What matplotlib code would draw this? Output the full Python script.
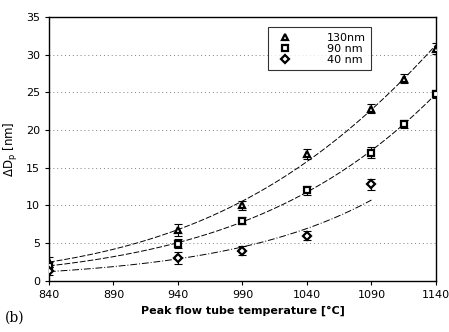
import numpy as np
import matplotlib
matplotlib.use("Agg")
import matplotlib.pyplot as plt

temps = [840, 940, 990, 1040, 1090, 1115, 1140]
d130 = [2.5, 6.8, 10.0, 16.8, 22.8, 26.8, 30.8]
d90 = [2.0, 4.9, 8.0, 12.0, 17.0, 20.8, 24.8]
temps40 = [840, 940, 990, 1040, 1090]
d40 = [1.3, 3.0, 4.0, 6.0, 12.8]
err130 = [0.6, 0.8, 0.6, 0.7, 0.6, 0.6, 0.7]
err90 = [0.5, 0.6, 0.5, 0.6, 0.7, 0.5, 0.5]
err40 = [0.5, 0.8, 0.6, 0.6, 0.7]

fig = plt.figure(figsize=(4.49, 3.32), dpi=100)
ax = fig.add_axes([0.109, 0.154, 0.862, 0.795])

# (x, y, err, marker, label, linestyle, degree of fit in log space)
series = [
    (temps, d130, err130, "^", "130nm", (0, (6, 2)), 2),
    (temps, d90, err90, "s", "90 nm", (0, (6, 2)), 2),
    (temps40, d40, err40, "D", "40 nm", (0, (7, 2, 1, 2)), 1),
]

for t, d, e, m, lab, ls, deg in series:
    t = np.array(t, dtype=float)
    coef = np.polyfit(t, np.log(d), deg)
    tt = np.linspace(t[0], t[-1], 200)
    ax.plot(tt, np.exp(np.polyval(coef, tt)), color="black", lw=0.7, ls=ls)
    ax.errorbar(t, d, yerr=e, fmt="none", ecolor="black", elinewidth=0.8,
                capsize=3, capthick=0.8, zorder=3)
    ax.plot(t, d, m, ms=5 if m != "D" else 4, mfc="white", mec="black",
            mew=1.6, label=lab, zorder=4)

ax.set_xlim(840, 1140)
ax.set_ylim(0, 35)
ax.set_xticks([840, 890, 940, 990, 1040, 1090, 1140])
ax.set_yticks(range(0, 36, 5))
ax.tick_params(labelsize=8, length=3, direction="out")
ax.yaxis.grid(True, ls=(0, (1, 3)), color="gray", lw=0.7)
for s in ax.spines.values():
    s.set_linewidth(1.0)

ax.set_ylabel(r"$\Delta$D$_\mathregular{p}$ [nm]", fontsize=8.5)
ax.set_xlabel("Peak flow tube temperature [°C]", fontsize=8, fontweight="bold")

leg = ax.legend(loc="upper left", bbox_to_anchor=(0.56, 0.97), fontsize=8,
                frameon=True, fancybox=False, edgecolor="black",
                handletextpad=2.8, borderpad=0.5, labelspacing=0.1,
                borderaxespad=0.2)
leg.get_frame().set_linewidth(0.8)

fig.text(0.01, 0.03, "(b)", fontsize=10, family="serif")

fig.savefig("out.png", dpi=100)
